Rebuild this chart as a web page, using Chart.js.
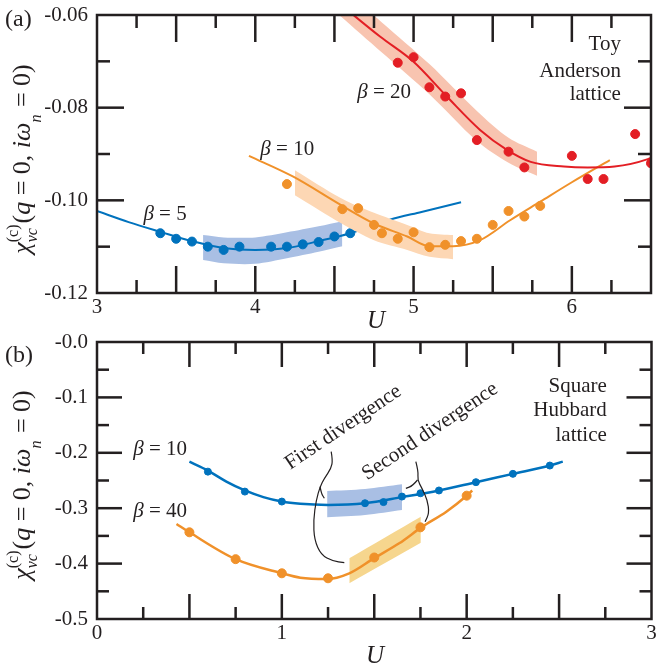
<!DOCTYPE html>
<html>
<head>
<meta charset="utf-8">
<script src="https://cdn.jsdelivr.net/npm/chart.js@4.4.1/dist/chart.umd.min.js"></script>
<style>
  html, body { margin: 0; padding: 0; background: #fff; }
  canvas { position: absolute; left: 0; }
</style>
</head>
<body>
<canvas id="chartA" width="657" height="330" style="top:0"></canvas>
<canvas id="chartB" width="657" height="337" style="top:330px"></canvas>
<script>
'use strict';

// ---- panel (a): toy Anderson lattice ----
const aBeta5U = [3.4, 3.5, 3.6, 3.7, 3.8, 3.9, 4.1, 4.2, 4.3, 4.4, 4.5, 4.6, 4.7];
const aBeta5Chi = [-0.1071, -0.1083, -0.1089, -0.1100, -0.1107, -0.1100, -0.1100, -0.1100, -0.1095, -0.1090, -0.1078, -0.1071, -0.1062];
const aBeta5FitU = [3.0, 3.2, 3.4, 3.6, 3.8, 4.0, 4.2, 4.4, 4.6, 4.85, 5.05, 5.3];
const aBeta5FitChi = [-0.1023, -0.1047, -0.1068, -0.1088, -0.1103, -0.1107, -0.1103, -0.1088, -0.1071, -0.1042, -0.1025, -0.1004];
const aBeta5BandU = [3.67, 3.8, 4.0, 4.2, 4.4, 4.55];
const aBeta5BandHi = [-0.1075, -0.1080, -0.1080, -0.1069, -0.1056, -0.1045];
const aBeta5BandLo = [-0.1129, -0.1136, -0.1137, -0.1125, -0.1111, -0.1099];

const aBeta10U = [4.2, 4.55, 4.65, 4.75, 4.8, 4.9, 5.0, 5.1, 5.2, 5.3, 5.4, 5.5, 5.6, 5.7, 5.8];
const aBeta10Chi = [-0.0965, -0.1019, -0.1017, -0.1053, -0.1071, -0.1083, -0.1069, -0.1101, -0.1096, -0.1088, -0.1083, -0.1053, -0.1023, -0.1035, -0.1012];
const aBeta10FitU = [3.96, 4.24, 4.54, 4.75, 4.96, 5.1, 5.25, 5.42, 5.61, 5.8, 6.0, 6.24];
const aBeta10FitChi = [-0.0904, -0.0949, -0.1010, -0.1050, -0.1078, -0.1099, -0.1099, -0.1086, -0.1043, -0.1003, -0.0961, -0.0913];
const aBeta10BandU = [4.25, 4.54, 4.75, 4.96, 5.1, 5.25];
const aBeta10BandHi = [-0.0935, -0.0995, -0.1027, -0.1053, -0.1071, -0.1075];
const aBeta10BandLo = [-0.0989, -0.1049, -0.1086, -0.1107, -0.1122, -0.1127];

const aBeta20U = [4.9, 5.0, 5.1, 5.2, 5.3, 5.4, 5.6, 5.7, 6.0, 6.1, 6.2, 6.4, 6.5];
const aBeta20Chi = [-0.0703, -0.0691, -0.0756, -0.0776, -0.0769, -0.0870, -0.0895, -0.0929, -0.0904, -0.0954, -0.0954, -0.0857, -0.0920];
const aBeta20FitU = [4.55, 4.62, 4.79, 5.0, 5.21, 5.42, 5.59, 5.74, 5.95, 6.1, 6.27, 6.48, 6.55];
const aBeta20FitChi = [-0.0580, -0.0600, -0.0647, -0.0701, -0.0776, -0.0848, -0.0891, -0.0917, -0.0927, -0.0929, -0.0927, -0.0911, -0.0900];
const aBeta20BandU = [4.5, 4.8, 5.1, 5.4, 5.6, 5.78];
const aBeta20BandHi = [-0.0527, -0.0616, -0.0706, -0.0807, -0.0865, -0.0895];
const aBeta20BandLo = [-0.0591, -0.0681, -0.0771, -0.0872, -0.0919, -0.0947];

// inward tick marks of panel (a)
const aTickU = [3.25, 3.5, 3.75, 4.0, 4.25, 4.5, 4.75, 5.0, 5.25, 5.5, 5.75, 6.0, 6.25];
const aTickChi = [-0.11, -0.10, -0.09, -0.08, -0.07];

// ---- panel (b): square Hubbard lattice ----
const bBeta10U = [0.6, 0.8, 1.0, 1.45, 1.55, 1.65, 1.75, 1.85, 2.05, 2.25, 2.45];
const bBeta10Chi = [-0.234, -0.270, -0.288, -0.291, -0.289, -0.279, -0.273, -0.268, -0.253, -0.238, -0.223];
const bBeta10FitU = [0.5, 0.6, 0.7, 0.8, 0.9, 1.0, 1.1, 1.25, 1.45, 1.65, 1.85, 2.05, 2.25, 2.45, 2.52];
const bBeta10FitChi = [-0.216, -0.232, -0.252, -0.268, -0.280, -0.288, -0.292, -0.294, -0.291, -0.280, -0.268, -0.253, -0.238, -0.223, -0.216];
const bBeta10BandU = [1.245, 1.45, 1.65];
const bBeta10BandHi = [-0.269, -0.2653, -0.2569];
const bBeta10BandLo = [-0.3164, -0.3123, -0.3032];

const bBeta40U = [0.5, 0.75, 1.0, 1.25, 1.5, 1.75, 2.0];
const bBeta40Chi = [-0.3435, -0.392, -0.4175, -0.4265, -0.389, -0.3345, -0.2774];
const bBeta40FitU = [0.43, 0.5, 0.75, 1.0, 1.1, 1.24, 1.365, 1.5, 1.635, 1.76, 1.89, 2.0, 2.03];
const bBeta40FitChi = [-0.3285, -0.3435, -0.392, -0.4175, -0.4255, -0.428, -0.4175, -0.390, -0.3634, -0.3333, -0.3063, -0.2774, -0.268];
const bBeta40BandU = [1.365, 1.752];
const bBeta40BandHi = [-0.3904, -0.3153];
const bBeta40BandLo = [-0.4356, -0.3623];

// inward tick marks of panel (b)
const bTickU = [0.25, 0.5, 0.75, 1.0, 1.25, 1.5, 1.75, 2.0, 2.25, 2.5, 2.75];
const bTickChi = [-0.45, -0.4, -0.35, -0.3, -0.25, -0.2, -0.15, -0.1, -0.05];

// leader lines from the "divergence" notes, in (U, chi)
const firstNoteMain = [[1.267, -0.198], [1.275, -0.213], [1.267, -0.228], [1.230, -0.246], [1.207, -0.2612], [1.186, -0.2852], [1.171, -0.3213], [1.176, -0.3574], [1.213, -0.3845], [1.275, -0.3954], [1.338, -0.3984]];
const firstNoteProng = [[1.207, -0.2612], [1.213, -0.2731], [1.230, -0.2821]];
const secondNoteMain = [[1.725, -0.2161], [1.739, -0.2341], [1.734, -0.2491], [1.758, -0.2641], [1.788, -0.2852], [1.797, -0.3092], [1.775, -0.3244]];
const secondNoteProng = [[1.734, -0.2491], [1.707, -0.2599], [1.671, -0.2641]];

const INK = '#231f20';
const BLUE = '#0072bd';
const ORANGE = '#f0912a';
const RED = '#e31e24';
const SERIF = '"Liberation Serif", "Times New Roman", serif';

const pts = (xs, ys) => xs.map((x, i) => ({ x: x, y: ys[i] }));
const font = (size, italic) => (italic ? 'italic ' : '') + size + 'px ' + SERIF;
const isMultiple = (v, step) => Math.abs(v / step - Math.round(v / step)) < 1e-6;

function curve(xs, ys, color, width, order) {
    return {
        data: pts(xs, ys), borderColor: color, borderWidth: width, pointRadius: 0,
        fill: false, cubicInterpolationMode: 'monotone', order: order, clip: 0,
    };
}

function dots(xs, ys, color, r, order) {
    return {
        data: pts(xs, ys), showLine: false, pointRadius: r, pointBackgroundColor: color,
        pointBorderColor: color, pointBorderWidth: 1, order: order, clip: 0,
    };
}

// upper edge fills down to the lower edge (next dataset)
function band(xs, hi, lo, color, order) {
    const common = { borderColor: 'rgba(0,0,0,0)', borderWidth: 1, pointRadius: 0, tension: 0.3, order: order, clip: 0 };
    return [
        Object.assign({ data: pts(xs, hi), backgroundColor: color, fill: '+1' }, common),
        Object.assign({ data: pts(xs, lo), fill: false }, common),
    ];
}

// ---- rich text (italics, sub/superscripts) ----
function partWidth(ctx, p) {
    if (p.sub !== undefined) {
        ctx.font = font(p.small, true);
        const a = ctx.measureText(p.sub).width;
        ctx.font = font(p.small, false);
        const b = p.sup ? ctx.measureText(p.sup).width : 0;
        return Math.max(a, b) + 1;
    }
    ctx.font = font(p.size, p.it);
    return ctx.measureText(p.t).width;
}

function drawRich(ctx, parts, x, y, align) {
    const w = parts.reduce((s, p) => s + partWidth(ctx, p), 0);
    let cx = align === 'right' ? x - w : align === 'center' ? x - w / 2 : x;
    ctx.textAlign = 'left';
    ctx.textBaseline = 'alphabetic';
    parts.forEach((p) => {
        if (p.sub !== undefined) {
            ctx.font = font(p.small, true);
            ctx.fillText(p.sub, cx, y + p.down);
            if (p.sup) {
                ctx.font = font(p.small, false);
                ctx.fillText(p.sup, cx, y - p.up);
            }
        } else {
            ctx.font = font(p.size, p.it);
            ctx.fillText(p.t, cx, y);
        }
        cx += partWidth(ctx, p);
    });
}

const plain = (t, size) => [{ t: t, size: size || 21 }];
const beta = (n) => [{ t: 'β', it: true, size: 21 }, { t: ' = ' + n, size: 21 }];
const yTitle = [
    { t: 'χ', it: true, size: 26 },
    { sub: 'vc', sup: '(c)', small: 16, down: 7, up: 12 },
    { t: '(', size: 26 },
    { t: 'q', it: true, size: 26 },
    { t: ' = 0, ', size: 26 },
    { t: 'iω', it: true, size: 26 },
    { sub: 'n', small: 16, down: 11 },
    { t: ' = 0)', size: 26 },
];

function smoothPath(ctx, p) {
    ctx.moveTo(p[0][0], p[0][1]);
    for (let i = 1; i < p.length - 1; i++) {
        const mx = (p[i][0] + p[i + 1][0]) / 2;
        const my = (p[i][1] + p[i + 1][1]) / 2;
        ctx.quadraticCurveTo(p[i][0], p[i][1], mx, my);
    }
    const last = p[p.length - 1];
    ctx.lineTo(last[0], last[1]);
}

// frame, inward ticks, notes, leader lines and axis titles
function overlay(cfg) {
    return {
        id: 'overlay',
        afterDraw(chart) {
            const ctx = chart.ctx;
            const xs = chart.scales.x;
            const ys = chart.scales.y;
            const a = chart.chartArea;
            ctx.save();
            ctx.fillStyle = INK;
            ctx.strokeStyle = INK;

            ctx.lineWidth = 1.2;
            (cfg.leaders || []).forEach((line) => {
                ctx.beginPath();
                smoothPath(ctx, line.map((p) => [xs.getPixelForValue(p[0]), ys.getPixelForValue(p[1])]));
                ctx.stroke();
            });
            cfg.notes.forEach((n) => {
                ctx.save();
                ctx.translate(xs.getPixelForValue(n.u), ys.getPixelForValue(n.chi));
                if (n.rot) ctx.rotate(n.rot);
                drawRich(ctx, n.parts, 0, 0, n.align);
                ctx.restore();
            });
            drawRich(ctx, plain(cfg.letter, 24), 5, cfg.letterY, 'left');
            drawRich(ctx, [{ t: 'U', it: true, size: 25 }], cfg.uX, cfg.uY, 'center');
            ctx.save();
            ctx.translate(30, cfg.titleY);
            ctx.rotate(-Math.PI / 2);
            drawRich(ctx, yTitle, 0, 0, 'center');
            ctx.restore();

            ctx.fillStyle = INK;
            cfg.xTicks.forEach((v) => {
                const len = isMultiple(v, cfg.xMajor) ? cfg.major : cfg.minor;
                const px = xs.getPixelForValue(v);
                ctx.fillRect(px - 1.25, a.bottom - len, 2.5, len);
                ctx.fillRect(px - 1.25, a.top, 2.5, len);
            });
            cfg.yTicks.forEach((v) => {
                const len = isMultiple(v, cfg.yMajor) ? cfg.major : cfg.minor;
                const py = ys.getPixelForValue(v);
                ctx.fillRect(a.left, py - 1.25, len, 2.5);
                ctx.fillRect(a.right - len, py - 1.25, len, 2.5);
            });
            ctx.lineWidth = 2.5;
            ctx.strokeRect(a.left, a.top, a.right - a.left, a.bottom - a.top);
            ctx.restore();
        },
    };
}

function axes(xMin, xMax, yMin, yMax, yStep, yDigits, xHeight) {
    const tickFont = { family: SERIF, size: 21 };
    return {
        x: {
            type: 'linear', position: 'bottom', min: xMin, max: xMax,
            grid: { display: false, drawTicks: false }, border: { display: false },
            ticks: {
                stepSize: 1, includeBounds: false, autoSkip: false, maxRotation: 0, padding: 2,
                color: INK, font: tickFont,
                callback: (v) => (Math.abs(v - Math.round(v)) < 1e-6 ? String(Math.round(v)) : ''),
            },
            afterFit: (s) => { s.height = xHeight; s.paddingLeft = 0; s.paddingRight = 0; },
        },
        y: {
            type: 'linear', position: 'left', min: yMin, max: yMax,
            grid: { display: false, drawTicks: false }, border: { display: false },
            ticks: {
                stepSize: yStep, includeBounds: false, autoSkip: false, padding: 9,
                color: INK, font: tickFont,
                callback: (v) => '-' + Math.abs(v).toFixed(yDigits),
            },
            afterFit: (s) => { s.width = 97; s.paddingTop = 0; s.paddingBottom = 0; },
        },
    };
}

function baseOptions(scales, padding) {
    return {
        responsive: false,
        animation: false,
        devicePixelRatio: 1,
        events: [],
        layout: { padding: padding },
        plugins: { legend: { display: false }, tooltip: { enabled: false } },
        scales: scales,
    };
}

new Chart(document.getElementById('chartA').getContext('2d'), {
    type: 'line',
    data: {
        datasets: [
            ...band(aBeta5BandU, aBeta5BandHi, aBeta5BandLo, '#a9bfe4', 10),
            curve(aBeta5FitU, aBeta5FitChi, BLUE, 2, 9),
            dots(aBeta5U, aBeta5Chi, BLUE, 4.5, 8),
            ...band(aBeta10BandU, aBeta10BandHi, aBeta10BandLo, '#fdd7b4', 7),
            curve(aBeta10FitU, aBeta10FitChi, ORANGE, 2, 6),
            dots(aBeta10U, aBeta10Chi, ORANGE, 4.5, 5),
            ...band(aBeta20BandU, aBeta20BandHi, aBeta20BandLo, '#f8c4b0', 4),
            curve(aBeta20FitU, aBeta20FitChi, RED, 2, 3),
            dots(aBeta20U, aBeta20Chi, RED, 4.5, 2),
        ],
    },
    options: baseOptions(axes(3, 6.5, -0.12, -0.06, 0.02, 2, 37), { left: 0, right: 6, top: 15, bottom: 0 }),
    plugins: [overlay({
        xTicks: aTickU, yTicks: aTickChi, xMajor: 0.5, yMajor: 0.02, major: 27, minor: 13,
        letter: '(a)', letterY: 26, uX: 376, uY: 328, titleY: 159,
        notes: [
            { parts: beta('5'), u: 3.293, chi: -0.1042, align: 'left' },
            { parts: beta('10'), u: 4.032, chi: -0.0902, align: 'left' },
            { parts: beta('20'), u: 4.644, chi: -0.0780, align: 'left' },
            { parts: plain('Toy'), u: 6.31, chi: -0.0675, align: 'right' },
            { parts: plain('Anderson'), u: 6.31, chi: -0.0734, align: 'right' },
            { parts: plain('lattice'), u: 6.31, chi: -0.0784, align: 'right' },
        ],
    })],
});

new Chart(document.getElementById('chartB').getContext('2d'), {
    type: 'line',
    data: {
        datasets: [
            ...band(bBeta10BandU, bBeta10BandHi, bBeta10BandLo, '#a9bfe4', 10),
            curve(bBeta10FitU, bBeta10FitChi, BLUE, 2.5, 9),
            dots(bBeta10U, bBeta10Chi, BLUE, 3.5, 8),
            ...band(bBeta40BandU, bBeta40BandHi, bBeta40BandLo, '#f6d68e', 7),
            curve(bBeta40FitU, bBeta40FitChi, ORANGE, 2.5, 6),
            dots(bBeta40U, bBeta40Chi, ORANGE, 4.5, 5),
        ],
    },
    options: baseOptions(axes(0, 3, -0.5, 0, 0.1, 1, 48), { left: 0, right: 5, top: 12, bottom: 0 }),
    plugins: [overlay({
        xTicks: bTickU, yTicks: bTickChi, xMajor: 0.5, yMajor: 0.1, major: 25, minor: 12,
        letter: '(b)', letterY: 32, uX: 375, uY: 333, titleY: 155,
        leaders: [firstNoteMain, firstNoteProng, secondNoteMain, secondNoteProng],
        notes: [
            { parts: beta('10'), u: 0.196, chi: -0.204, align: 'left' },
            { parts: beta('40'), u: 0.196, chi: -0.316, align: 'left' },
            { parts: plain('First divergence'), u: 1.349, chi: -0.1625, align: 'center', rot: -0.593 },
            { parts: plain('Second divergence'), u: 1.819, chi: -0.1697, align: 'center', rot: -0.593 },
            { parts: plain('Square'), u: 2.758, chi: -0.0903, align: 'right' },
            { parts: plain('Hubbard'), u: 2.758, chi: -0.1336, align: 'right' },
            { parts: plain('lattice'), u: 2.758, chi: -0.1787, align: 'right' },
        ],
    })],
});
</script>
</body>
</html>
